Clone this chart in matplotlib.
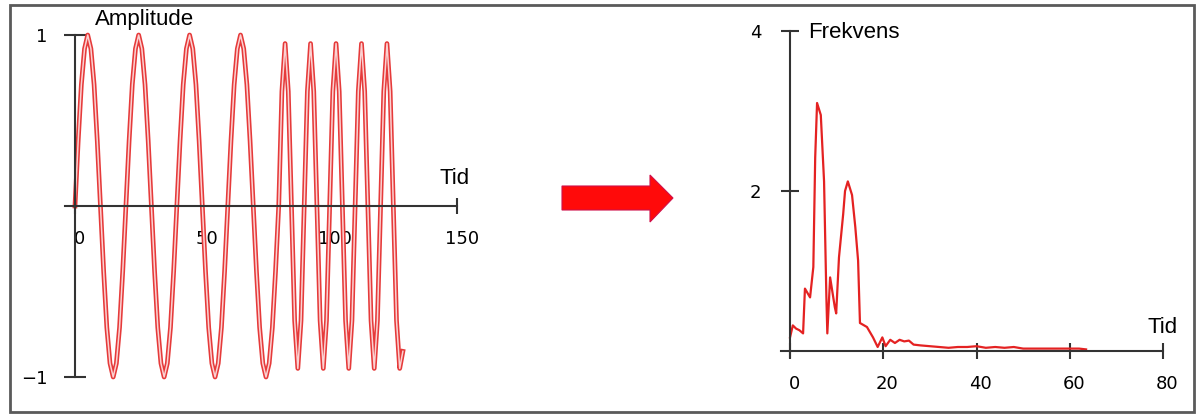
import matplotlib
matplotlib.use("Agg")
import matplotlib.pyplot as plt
from matplotlib.patches import Rectangle, Polygon
from matplotlib.transforms import ScaledTranslation
import numpy as np

# Left panel: sampled signal (amplitude vs tid), one sample every 1.25 time units
sample_step = 1.25
amplitude = [
    0.00, 0.38, 0.71, 0.92, 1.00, 0.92, 0.71, 0.38, 0.00, -0.38, -0.71, -0.92, -1.00, -0.92, -0.71, -0.38,
    0.00, 0.38, 0.71, 0.92, 1.00, 0.92, 0.71, 0.38, 0.00, -0.38, -0.71, -0.92, -1.00, -0.92, -0.71, -0.38,
    0.00, 0.38, 0.71, 0.92, 1.00, 0.92, 0.71, 0.38, 0.00, -0.38, -0.71, -0.92, -1.00, -0.92, -0.71, -0.38,
    0.00, 0.38, 0.71, 0.92, 1.00, 0.92, 0.71, 0.38, 0.00, -0.38, -0.71, -0.92, -1.00, -0.92, -0.71, -0.38,
    0.00, 0.67, 0.95, 0.67, 0.00, -0.67, -0.95, -0.67,
    0.00, 0.67, 0.95, 0.67, 0.00, -0.67, -0.95, -0.67,
    0.00, 0.67, 0.95, 0.67, 0.00, -0.67, -0.95, -0.67,
    0.00, 0.67, 0.95, 0.67, 0.00, -0.67, -0.95, -0.67,
    0.00, 0.67, 0.95, 0.67, 0.00, -0.67, -0.95, -0.85,
]
left_xticks = [0, 50, 100, 150]
left_yticks = [-1, 1]

# Right panel: spectrum
spec_x = [0.0, 0.6, 1.3, 2.0, 2.8, 3.2, 4.3, 5.0, 5.4, 5.8, 6.6, 7.3, 7.8, 8.0, 8.6, 9.6, 9.9,
          10.5, 11.4, 11.8, 12.4, 13.3, 14.0, 14.6, 15.0, 16.5, 17.8, 18.8, 19.8, 20.5, 21.5,
          22.5, 23.5, 24.5, 25.5, 26.5, 28, 30, 32, 34, 36, 38, 40, 42, 44, 46, 48, 50, 53,
          56, 59, 62, 63.5]
spec_y = [0.17, 0.32, 0.28, 0.26, 0.22, 0.78, 0.67, 1.05, 2.42, 3.10, 2.95, 2.12, 0.67, 0.22,
          0.92, 0.55, 0.47, 1.17, 1.71, 2.00, 2.12, 1.95, 1.55, 1.13, 0.35, 0.30, 0.17, 0.05,
          0.17, 0.06, 0.14, 0.10, 0.14, 0.12, 0.13, 0.08, 0.07, 0.06, 0.05, 0.04, 0.05, 0.05,
          0.06, 0.04, 0.05, 0.04, 0.05, 0.03, 0.03, 0.03, 0.03, 0.03, 0.02]
right_xticks = [0, 20, 40, 60, 80]
right_yticks = [2, 4]

W, H = 1203, 419
fig = plt.figure(figsize=(W / 100, H / 100), dpi=100)
fig.patch.set_facecolor("white")

def px_box(x0, x1, y_top, y_bot):
    return [x0 / W, 1 - y_bot / H, (x1 - x0) / W, (y_bot - y_top) / H]

axis_col = "#333333"
num_font = dict(family="DejaVu Sans", size=13)
lab_font = dict(family="Liberation Sans", size=16)

# ---- left panel
ax1 = fig.add_axes(px_box(64.8, 457, 35, 377))
t = np.arange(len(amplitude)) * sample_step
ax1.plot(t, amplitude, color="#e63a3a", lw=3.4, clip_on=False)
ax1.plot(t, amplitude, color="#fbd2d2", lw=1.1, clip_on=False)
ax1.set_xlim(-4, 150)
ax1.set_ylim(-1, 1)
for s in ["top", "right"]:
    ax1.spines[s].set_visible(False)
ax1.spines["left"].set_position(("data", 0))
ax1.spines["bottom"].set_position(("data", 0))
for s in ["left", "bottom"]:
    ax1.spines[s].set_color(axis_col)
    ax1.spines[s].set_linewidth(1.5)
    ax1.spines[s].set_zorder(3)
ax1.set_xticks(left_xticks)
ax1.set_xticklabels([str(v) for v in left_xticks], fontdict=num_font)
ax1.set_yticks(left_yticks)
ax1.set_yticklabels(["\u22121", "1"], fontdict=num_font)
ax1.tick_params(axis="x", direction="inout", length=12, width=1.5, color=axis_col, pad=11)
ax1.tick_params(axis="y", direction="inout", length=16, width=1.5, color=axis_col, pad=12)
for lbl in ax1.get_xticklabels():
    lbl.set_transform(lbl.get_transform() + ScaledTranslation(5 / 100, 0, fig.dpi_scale_trans))
ax1.patch.set_alpha(0)
fig.text(95 / W, 1 - 20 / H, "Amplitude", ha="left", va="center", **lab_font)
fig.text(440 / W, 1 - 178 / H, "Tid", ha="left", va="center", **lab_font)

# ---- arrow
arrow_px = [(562, 186), (650, 186), (650, 175), (673, 198), (650, 222), (650, 210), (562, 210)]
fig.patches.append(Polygon([(x / W, 1 - y / H) for x, y in arrow_px], closed=True,
                           transform=fig.transFigure, facecolor="#ff0a0a",
                           edgecolor="#d0104a", lw=0.8))

# ---- right panel
ax2 = fig.add_axes(px_box(780.7, 1163, 31, 357.4))
ax2.plot(spec_x, spec_y, color="#e42222", lw=1.6)
ax2.set_xlim(-2, 80)
ax2.set_ylim(-0.08, 4)
for s in ["top", "right"]:
    ax2.spines[s].set_visible(False)
ax2.spines["left"].set_position(("data", 0))
ax2.spines["bottom"].set_position(("data", 0))
for s in ["left", "bottom"]:
    ax2.spines[s].set_color(axis_col)
    ax2.spines[s].set_linewidth(1.5)
ax2.set_xticks(right_xticks)
ax2.set_xticklabels([str(v) for v in right_xticks], fontdict=num_font)
ax2.set_yticks(right_yticks)
ax2.set_yticklabels([str(v) for v in right_yticks], fontdict=num_font)
ax2.tick_params(axis="x", direction="inout", length=12, width=1.5, color=axis_col, pad=11)
ax2.tick_params(axis="y", direction="inout", length=13, width=1.5, color=axis_col, pad=14)
for lbl in ax2.get_xticklabels():
    lbl.set_transform(lbl.get_transform() + ScaledTranslation(4 / 100, 0, fig.dpi_scale_trans))
ax2.patch.set_alpha(0)
fig.text(808 / W, 1 - 32 / H, "Frekvens", ha="left", va="center", **lab_font)
fig.text(1148 / W, 1 - 327 / H, "Tid", ha="left", va="center", **lab_font)

# ---- outer frame
fig.patches.append(Rectangle((10 / W, 1 - 412 / H), (1194 - 10) / W, (412 - 5) / H,
                             transform=fig.transFigure, fill=False,
                             edgecolor="#5a5a5a", lw=2))

fig.savefig("out.png", dpi=100)
